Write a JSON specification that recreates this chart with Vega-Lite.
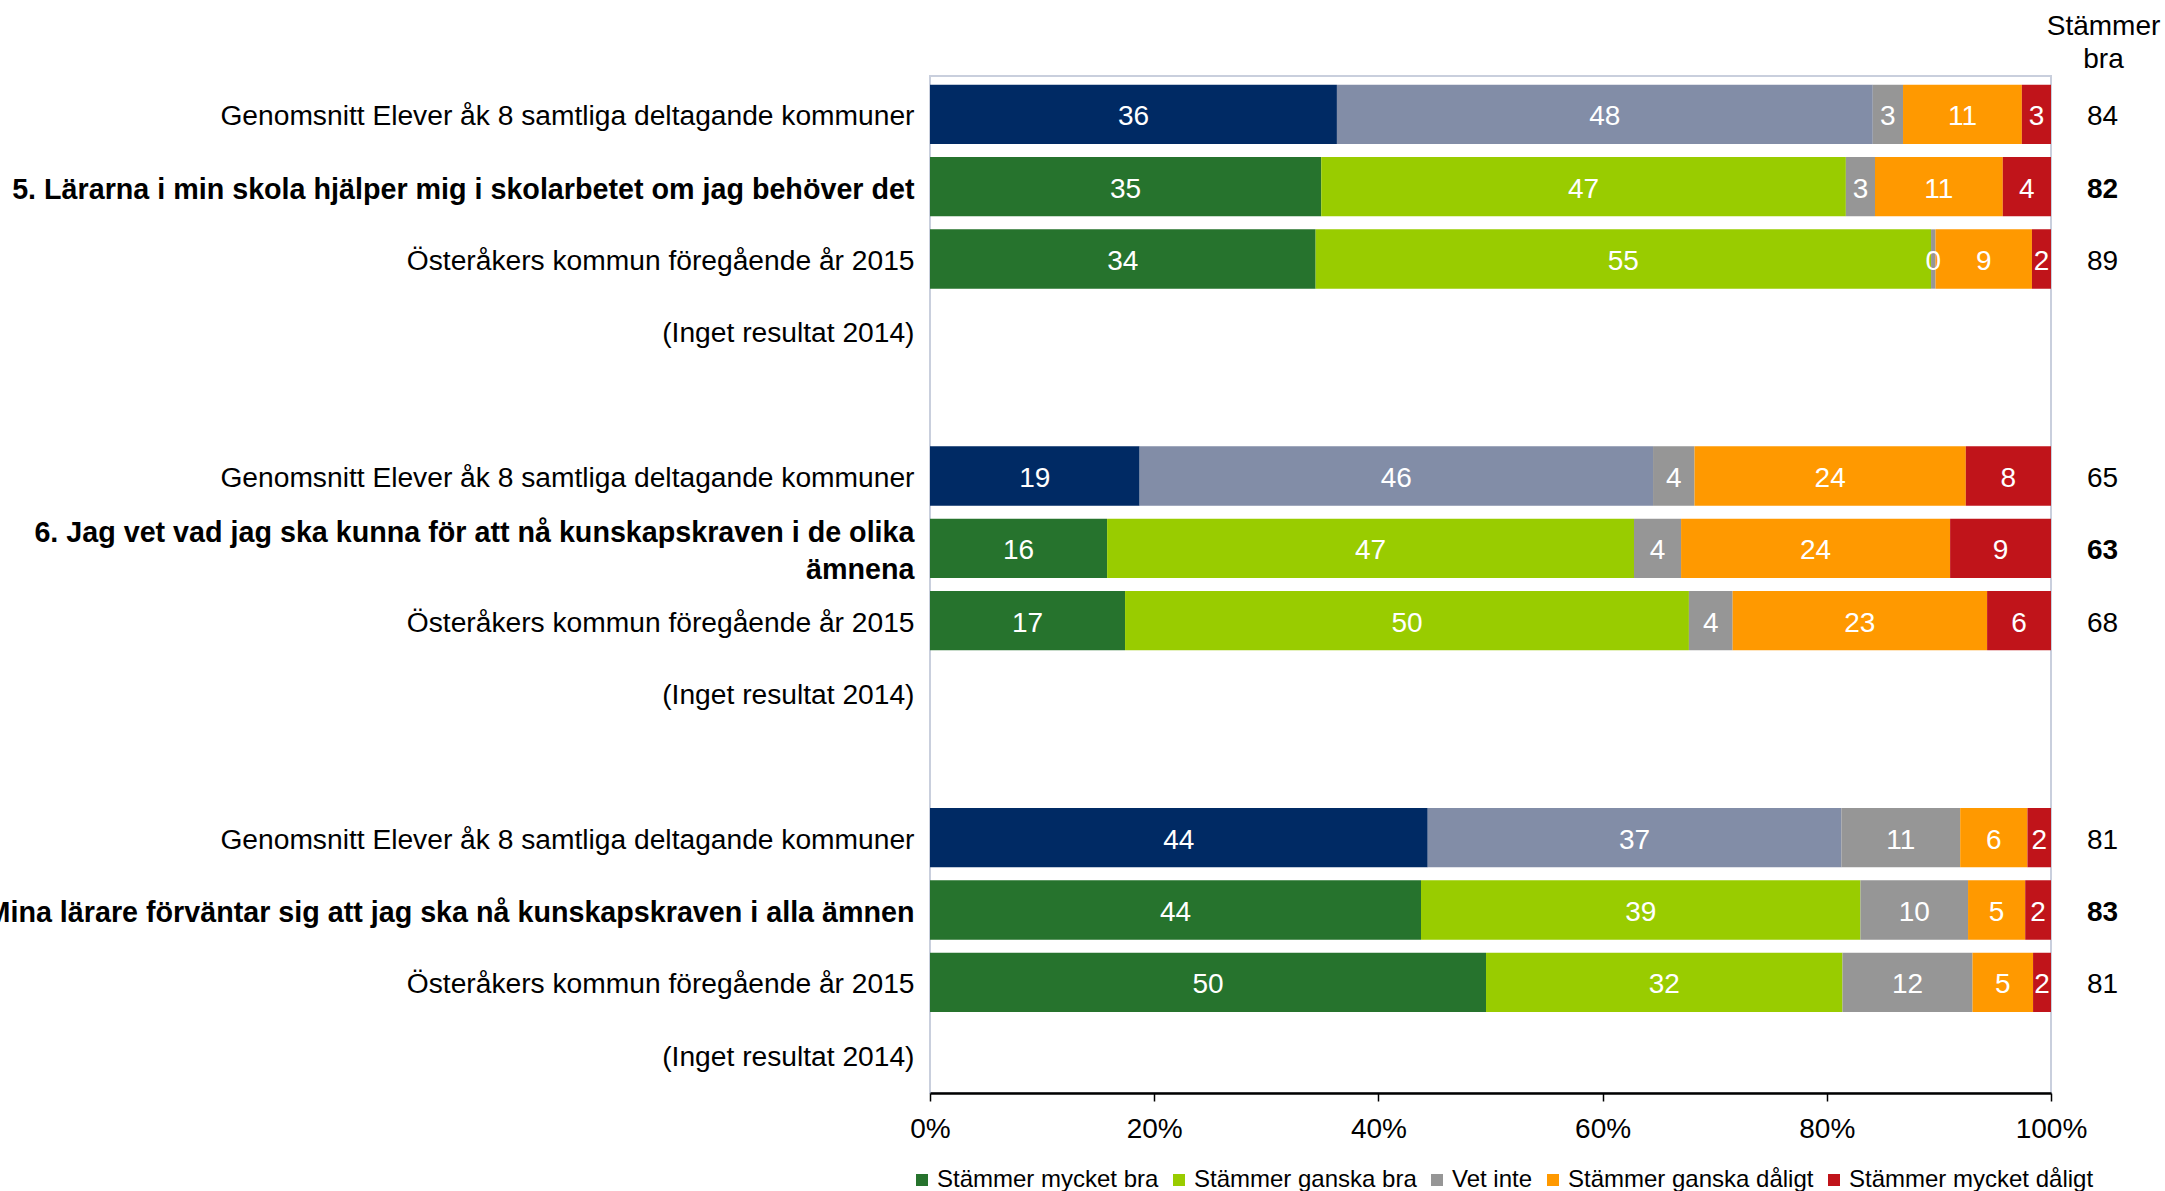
{
  "$schema": "https://vega.github.io/schema/vega-lite/v6.json",
  "width": 1121,
  "height": 1017,
  "autosize": {"type": "none"},
  "padding": {"left": 930, "top": 76, "right": 114, "bottom": 98},
  "background": "white",
  "config": {
    "font": "Liberation Sans",
    "view": {"stroke": "#C9CFDD", "strokeWidth": 2}
  },
  "datasets": {
    "answers": [
      {"row": "01|Genomsnitt Elever åk 8 samtliga deltagande kommuner", "grp": "snitt", "k": 1, "cat": "Stämmer mycket bra", "v": 36.3},
      {"row": "01|Genomsnitt Elever åk 8 samtliga deltagande kommuner", "grp": "snitt", "k": 2, "cat": "Stämmer ganska bra", "v": 47.8},
      {"row": "01|Genomsnitt Elever åk 8 samtliga deltagande kommuner", "grp": "snitt", "k": 3, "cat": "Vet inte", "v": 2.7},
      {"row": "01|Genomsnitt Elever åk 8 samtliga deltagande kommuner", "grp": "snitt", "k": 4, "cat": "Stämmer ganska dåligt", "v": 10.6},
      {"row": "01|Genomsnitt Elever åk 8 samtliga deltagande kommuner", "grp": "snitt", "k": 5, "cat": "Stämmer mycket dåligt", "v": 2.6},
      {"row": "02*|5. Lärarna i min skola hjälper mig i skolarbetet om jag behöver det", "grp": "kommun", "k": 1, "cat": "Stämmer mycket bra", "v": 34.9},
      {"row": "02*|5. Lärarna i min skola hjälper mig i skolarbetet om jag behöver det", "grp": "kommun", "k": 2, "cat": "Stämmer ganska bra", "v": 46.8},
      {"row": "02*|5. Lärarna i min skola hjälper mig i skolarbetet om jag behöver det", "grp": "kommun", "k": 3, "cat": "Vet inte", "v": 2.6},
      {"row": "02*|5. Lärarna i min skola hjälper mig i skolarbetet om jag behöver det", "grp": "kommun", "k": 4, "cat": "Stämmer ganska dåligt", "v": 11.4},
      {"row": "02*|5. Lärarna i min skola hjälper mig i skolarbetet om jag behöver det", "grp": "kommun", "k": 5, "cat": "Stämmer mycket dåligt", "v": 4.3},
      {"row": "03|Österåkers kommun föregående år 2015", "grp": "kommun", "k": 1, "cat": "Stämmer mycket bra", "v": 34.4},
      {"row": "03|Österåkers kommun föregående år 2015", "grp": "kommun", "k": 2, "cat": "Stämmer ganska bra", "v": 54.9},
      {"row": "03|Österåkers kommun föregående år 2015", "grp": "kommun", "k": 3, "cat": "Vet inte", "v": 0.4},
      {"row": "03|Österåkers kommun föregående år 2015", "grp": "kommun", "k": 4, "cat": "Stämmer ganska dåligt", "v": 8.6},
      {"row": "03|Österåkers kommun föregående år 2015", "grp": "kommun", "k": 5, "cat": "Stämmer mycket dåligt", "v": 1.7},
      {"row": "05|Genomsnitt Elever åk 8 samtliga deltagande kommuner", "grp": "snitt", "k": 1, "cat": "Stämmer mycket bra", "v": 18.7},
      {"row": "05|Genomsnitt Elever åk 8 samtliga deltagande kommuner", "grp": "snitt", "k": 2, "cat": "Stämmer ganska bra", "v": 45.8},
      {"row": "05|Genomsnitt Elever åk 8 samtliga deltagande kommuner", "grp": "snitt", "k": 3, "cat": "Vet inte", "v": 3.7},
      {"row": "05|Genomsnitt Elever åk 8 samtliga deltagande kommuner", "grp": "snitt", "k": 4, "cat": "Stämmer ganska dåligt", "v": 24.2},
      {"row": "05|Genomsnitt Elever åk 8 samtliga deltagande kommuner", "grp": "snitt", "k": 5, "cat": "Stämmer mycket dåligt", "v": 7.6},
      {"row": "06*|6. Jag vet vad jag ska kunna för att nå kunskapskraven i de olika~ämnena", "grp": "kommun", "k": 1, "cat": "Stämmer mycket bra", "v": 15.8},
      {"row": "06*|6. Jag vet vad jag ska kunna för att nå kunskapskraven i de olika~ämnena", "grp": "kommun", "k": 2, "cat": "Stämmer ganska bra", "v": 47.0},
      {"row": "06*|6. Jag vet vad jag ska kunna för att nå kunskapskraven i de olika~ämnena", "grp": "kommun", "k": 3, "cat": "Vet inte", "v": 4.2},
      {"row": "06*|6. Jag vet vad jag ska kunna för att nå kunskapskraven i de olika~ämnena", "grp": "kommun", "k": 4, "cat": "Stämmer ganska dåligt", "v": 24.0},
      {"row": "06*|6. Jag vet vad jag ska kunna för att nå kunskapskraven i de olika~ämnena", "grp": "kommun", "k": 5, "cat": "Stämmer mycket dåligt", "v": 9.0},
      {"row": "07|Österåkers kommun föregående år 2015", "grp": "kommun", "k": 1, "cat": "Stämmer mycket bra", "v": 17.4},
      {"row": "07|Österåkers kommun föregående år 2015", "grp": "kommun", "k": 2, "cat": "Stämmer ganska bra", "v": 50.3},
      {"row": "07|Österåkers kommun föregående år 2015", "grp": "kommun", "k": 3, "cat": "Vet inte", "v": 3.9},
      {"row": "07|Österåkers kommun föregående år 2015", "grp": "kommun", "k": 4, "cat": "Stämmer ganska dåligt", "v": 22.7},
      {"row": "07|Österåkers kommun föregående år 2015", "grp": "kommun", "k": 5, "cat": "Stämmer mycket dåligt", "v": 5.7},
      {"row": "09|Genomsnitt Elever åk 8 samtliga deltagande kommuner", "grp": "snitt", "k": 1, "cat": "Stämmer mycket bra", "v": 44.4},
      {"row": "09|Genomsnitt Elever åk 8 samtliga deltagande kommuner", "grp": "snitt", "k": 2, "cat": "Stämmer ganska bra", "v": 36.9},
      {"row": "09|Genomsnitt Elever åk 8 samtliga deltagande kommuner", "grp": "snitt", "k": 3, "cat": "Vet inte", "v": 10.6},
      {"row": "09|Genomsnitt Elever åk 8 samtliga deltagande kommuner", "grp": "snitt", "k": 4, "cat": "Stämmer ganska dåligt", "v": 6.0},
      {"row": "09|Genomsnitt Elever åk 8 samtliga deltagande kommuner", "grp": "snitt", "k": 5, "cat": "Stämmer mycket dåligt", "v": 2.1},
      {"row": "10*|7. Mina lärare förväntar sig att jag ska nå kunskapskraven i alla ämnen", "grp": "kommun", "k": 1, "cat": "Stämmer mycket bra", "v": 43.8},
      {"row": "10*|7. Mina lärare förväntar sig att jag ska nå kunskapskraven i alla ämnen", "grp": "kommun", "k": 2, "cat": "Stämmer ganska bra", "v": 39.2},
      {"row": "10*|7. Mina lärare förväntar sig att jag ska nå kunskapskraven i alla ämnen", "grp": "kommun", "k": 3, "cat": "Vet inte", "v": 9.6},
      {"row": "10*|7. Mina lärare förväntar sig att jag ska nå kunskapskraven i alla ämnen", "grp": "kommun", "k": 4, "cat": "Stämmer ganska dåligt", "v": 5.1},
      {"row": "10*|7. Mina lärare förväntar sig att jag ska nå kunskapskraven i alla ämnen", "grp": "kommun", "k": 5, "cat": "Stämmer mycket dåligt", "v": 2.3},
      {"row": "11|Österåkers kommun föregående år 2015", "grp": "kommun", "k": 1, "cat": "Stämmer mycket bra", "v": 49.6},
      {"row": "11|Österåkers kommun föregående år 2015", "grp": "kommun", "k": 2, "cat": "Stämmer ganska bra", "v": 31.8},
      {"row": "11|Österåkers kommun föregående år 2015", "grp": "kommun", "k": 3, "cat": "Vet inte", "v": 11.6},
      {"row": "11|Österåkers kommun föregående år 2015", "grp": "kommun", "k": 4, "cat": "Stämmer ganska dåligt", "v": 5.4},
      {"row": "11|Österåkers kommun föregående år 2015", "grp": "kommun", "k": 5, "cat": "Stämmer mycket dåligt", "v": 1.6}
    ],
    "rows": [
      {"row": "01|Genomsnitt Elever åk 8 samtliga deltagande kommuner", "sb": 84, "q": false},
      {"row": "02*|5. Lärarna i min skola hjälper mig i skolarbetet om jag behöver det", "sb": 82, "q": true},
      {"row": "03|Österåkers kommun föregående år 2015", "sb": 89, "q": false},
      {"row": "05|Genomsnitt Elever åk 8 samtliga deltagande kommuner", "sb": 65, "q": false},
      {"row": "06*|6. Jag vet vad jag ska kunna för att nå kunskapskraven i de olika~ämnena", "sb": 63, "q": true},
      {"row": "07|Österåkers kommun föregående år 2015", "sb": 68, "q": false},
      {"row": "09|Genomsnitt Elever åk 8 samtliga deltagande kommuner", "sb": 81, "q": false},
      {"row": "10*|7. Mina lärare förväntar sig att jag ska nå kunskapskraven i alla ämnen", "sb": 83, "q": true},
      {"row": "11|Österåkers kommun föregående år 2015", "sb": 81, "q": false}
    ]
  },
  "encoding": {
    "y": {
      "field": "row",
      "type": "nominal",
      "sort": null,
      "scale": {
        "domain": [
          "01|Genomsnitt Elever åk 8 samtliga deltagande kommuner",
          "02*|5. Lärarna i min skola hjälper mig i skolarbetet om jag behöver det",
          "03|Österåkers kommun föregående år 2015",
          "04|(Inget resultat 2014)",
          "04b|",
          "05|Genomsnitt Elever åk 8 samtliga deltagande kommuner",
          "06*|6. Jag vet vad jag ska kunna för att nå kunskapskraven i de olika~ämnena",
          "07|Österåkers kommun föregående år 2015",
          "08|(Inget resultat 2014)",
          "08b|",
          "09|Genomsnitt Elever åk 8 samtliga deltagande kommuner",
          "10*|7. Mina lärare förväntar sig att jag ska nå kunskapskraven i alla ämnen",
          "11|Österåkers kommun föregående år 2015",
          "12|(Inget resultat 2014)"
        ],
        "paddingInner": 0.18,
        "paddingOuter": 0.12
      },
      "axis": {
        "title": ["Stämmer", "bra"],
        "titleAngle": 0,
        "titleX": 1173,
        "titleY": -42,
        "titleAlign": "center",
        "titleBaseline": "alphabetic",
        "titleFontSize": 28,
        "titleFontWeight": "normal",
        "titleLineHeight": 33,
        "titleColor": "black",
        "labelExpr": "split(split(datum.value, '|')[1], '~')",
        "labelFontSize": {"condition": {"test": "indexof(datum.value, '*|') >= 0", "value": 28.7}, "value": 28.2},
        "labelColor": "black",
        "labelLimit": 1400,
        "labelPadding": 16,
        "labelLineHeight": 37,
        "labelOffset": {"condition": {"test": "indexof(datum.value, '~') >= 0", "value": -15}, "value": 3},
        "labelFontWeight": {"condition": {"test": "indexof(datum.value, '*|') >= 0", "value": "bold"}, "value": "normal"},
        "ticks": false,
        "tickSize": 0,
        "domain": false,
        "grid": false
      }
    }
  },
  "layer": [
    {
      "data": {"name": "answers"},
      "layer": [
        {
          "mark": {"type": "bar"},
          "encoding": {
            "x": {
              "field": "v",
              "type": "quantitative",
              "stack": "zero",
              "scale": {"domain": [0, 100], "nice": false},
              "axis": {
                "title": null,
                "values": [0, 20, 40, 60, 80, 100],
                "labelExpr": "datum.value + '%'",
                "grid": false,
                "domainColor": "black",
                "domainWidth": 2.5,
                "tickColor": "black",
                "tickWidth": 1.5,
                "tickSize": 8,
                "labelFontSize": 28,
                "labelColor": "black",
                "labelPadding": 14,
                "labelFlush": false
              }
            },
            "order": {"field": "k", "type": "quantitative", "sort": "ascending"},
            "color": {
              "condition": [
                {"test": "datum.grp === 'snitt' && datum.k === 1", "value": "#002A64"},
                {"test": "datum.grp === 'snitt' && datum.k === 2", "value": "#828DA7"}
              ],
              "field": "cat",
              "type": "nominal",
              "scale": {
                "domain": ["Stämmer mycket bra", "Stämmer ganska bra", "Vet inte", "Stämmer ganska dåligt", "Stämmer mycket dåligt"],
                "range": ["#26732D", "#99CC00", "#969696", "#FF9900", "#C0141A"]
              },
              "legend": {
                "orient": "none",
                "legendX": -20,
                "legendY": 1092,
                "direction": "horizontal",
                "columns": 5,
                "title": null,
                "padding": 0,
                "symbolType": "square",
                "symbolSize": 144,
                "symbolStrokeWidth": 0,
                "labelFontSize": 24,
                "labelColor": "black",
                "labelLimit": 400,
                "labelOffset": 3,
                "columnPadding": 8
              }
            }
          }
        },
        {
          "mark": {"type": "text", "color": "white", "fontSize": 28, "dy": 3},
          "encoding": {
            "x": {"field": "v", "type": "quantitative", "stack": "zero", "bandPosition": 0.5, "scale": {"domain": [0, 100], "nice": false}},
            "order": {"field": "k", "type": "quantitative", "sort": "ascending"},
            "detail": {"field": "cat", "type": "nominal"},
            "text": {"field": "v", "type": "quantitative", "format": ".0f"}
          }
        }
      ]
    },
    {
      "data": {"name": "rows"},
      "transform": [{"filter": "!datum.q"}],
      "mark": {"type": "text", "color": "black", "fontSize": 28, "fontWeight": "normal", "dy": 3},
      "encoding": {
        "x": {"datum": 104.6, "type": "quantitative", "scale": {"domain": [0, 100], "nice": false}},
        "text": {"field": "sb", "type": "quantitative"}
      }
    },
    {
      "data": {"name": "rows"},
      "transform": [{"filter": "datum.q"}],
      "mark": {"type": "text", "color": "black", "fontSize": 28, "fontWeight": "bold", "dy": 3},
      "encoding": {
        "x": {"datum": 104.6, "type": "quantitative", "scale": {"domain": [0, 100], "nice": false}},
        "text": {"field": "sb", "type": "quantitative"}
      }
    }
  ]
}
